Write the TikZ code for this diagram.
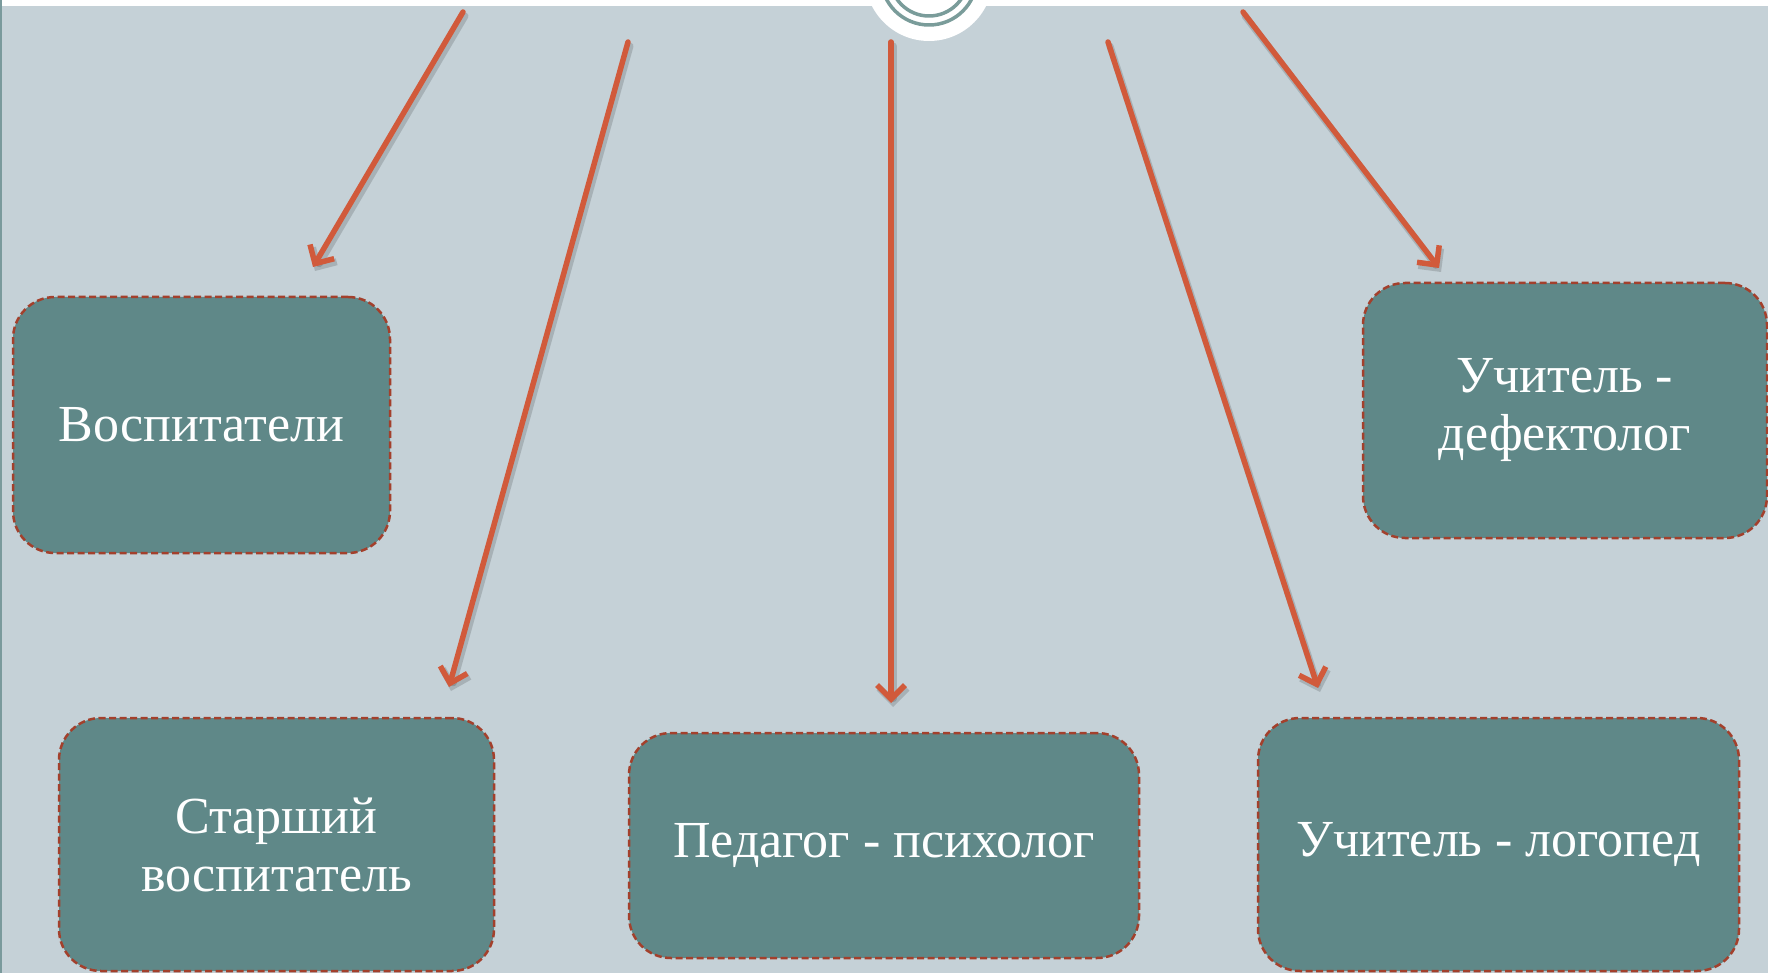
\documentclass[tikz,border=0pt]{standalone}
\usepackage{fontspec}
\setmainfont{Liberation Serif}
\usetikzlibrary{arrows.meta}
\definecolor{bg}{HTML}{C5D1D7}
\definecolor{boxfill}{HTML}{5F8888}
\definecolor{boxline}{HTML}{A3402C}
\definecolor{arr}{HTML}{D15A3B}
\definecolor{ring}{HTML}{7A9C9A}
\definecolor{edgec}{HTML}{7A9A9C}
\begin{document}
\begin{tikzpicture}[x=1pt,y=-1pt,
  box/.style={draw=boxline, line width=2.5pt, dash pattern=on 7pt off 3.5pt,
    fill=boxfill, rounded corners=42pt, text=white, align=center,
    font=\fontsize{52}{58}\selectfont, inner sep=0pt},
  arrowline/.style={draw=arr, line width=5.5pt,
    -{Straight Barb[length=14pt,width=28pt]}, line cap=round, line join=round},
  shadowline/.style={draw=black, opacity=0.15, line width=7pt,
    -{Straight Barb[length=14pt,width=28pt]}, line cap=round, line join=round}]
\useasboundingbox (0,0) rectangle (1768,973);
\clip (0,0) rectangle (1768,973);
\fill[bg] (0,0) rectangle (1768,973);
\fill[white] (0,0) rectangle (1768,6);
\fill[white] (929,-23) circle[radius=64];
\draw[ring, line width=3.5pt] (929,-23) circle[radius=48];
\draw[ring, line width=3.5pt] (929,-23) circle[radius=39];
\fill[edgec] (0,0) rectangle (2,973);

\node[box, minimum width=377pt, minimum height=256pt] (b1) at (201.5,425) {Воспитатели};
\node[box, minimum width=435pt, minimum height=253pt] (b2) at (276.5,844.5) {Старший\\воспитатель};
\node[box, minimum width=510pt, minimum height=225pt] (b3) at (884,845.5) {Педагог - психолог};
\node[box, minimum width=481pt, minimum height=253pt] (b4) at (1498.5,844.5) {Учитель - логопед};
\node[box, minimum width=404pt, minimum height=255pt] (b5) at (1565,410.5) {Учитель -\\дефектолог};

\coordinate (s1) at (463,12);   \coordinate (e1) at (313,267);
\coordinate (s2) at (628,42);   \coordinate (e2) at (449,687);
\coordinate (s3) at (891,42);   \coordinate (e3) at (891,703);
\coordinate (s4) at (1108,42);  \coordinate (e4) at (1318,688);
\coordinate (s5) at (1243,12);  \coordinate (e5) at (1439,268);

\foreach \i in {1,...,5} {
  \draw[shadowline] ([shift={(2,4)}]s\i) -- ([shift={(2,4)}]e\i);
  \draw[arrowline] (s\i) -- (e\i);
}
\end{tikzpicture}
\end{document}
